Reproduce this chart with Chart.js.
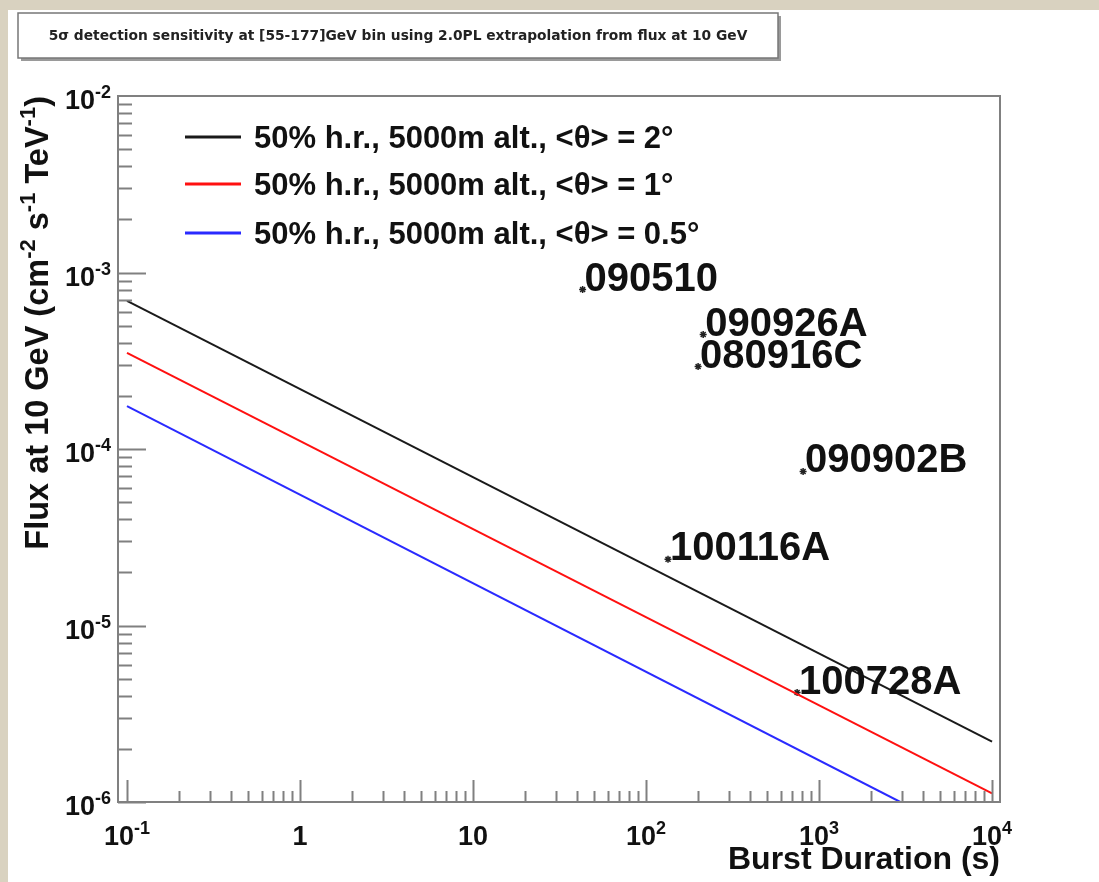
<!DOCTYPE html>
<html>
<head>
<meta charset="utf-8">
<script src="https://cdn.jsdelivr.net/npm/chart.js@4.4.1/dist/chart.umd.min.js"></script>
<style>
  html, body { margin: 0; padding: 0; background: #d9d2c0; }
  canvas { display: block; }
</style>
</head>
<body>
<canvas id="sens" width="1099" height="882"></canvas>
<script>
// sensitivity curves (flux at 10 GeV vs burst duration)
const durations = [0.1, 10000];
const flux2deg = [6.9e-4, 2.2e-6];
const flux1deg = [3.5e-4, 1.12e-6];
const durationsHalf = [0.1, 2950];
const fluxHalfDeg = [1.75e-4, 1.0e-6];

// bursts
const grbNames = ['090510', '090926A', '080916C', '090902B', '100116A', '100728A'];
const grbDurations = [43, 214, 200, 809, 134, 747];
const grbFlux = [8.0e-4, 4.45e-4, 2.93e-4, 7.46e-5, 2.37e-5, 4.17e-6];

const seriesLabels = [
  '50% h.r., 5000m alt., <\u03b8> = 2\u00b0',
  '50% h.r., 5000m alt., <\u03b8> = 1\u00b0',
  '50% h.r., 5000m alt., <\u03b8> = 0.5\u00b0'
];
const seriesColors = ['#1a1a1a', '#ff1010', '#2a2aff'];

const xMajor = [0.1, 1, 10, 100, 1000, 10000];
const xMajorLabels = [['10', '-1'], ['1', ''], ['10', ''], ['10', '2'], ['10', '3'], ['10', '4']];
const yMajor = [1e-6, 1e-5, 1e-4, 1e-3, 1e-2];
const yMajorLabels = [['10', '-6'], ['10', '-5'], ['10', '-4'], ['10', '-3'], ['10', '-2']];

const titleText = '5\u03c3 detection sensitivity at [55-177]GeV bin using 2.0PL extrapolation from flux at 10 GeV';
const xTitle = 'Burst Duration (s)';
const yTitle = [['Flux at 10 GeV (cm', ''], ['', '-2'], [' s', ''], ['', '-1'], [' TeV', ''], ['', '-1'], [')', '']];

const FONT = '"Liberation Sans", Arial, Helvetica, sans-serif';

function pts(xs, ys) {
  return xs.map((x, i) => ({ x: x, y: ys[i] }));
}

function supLabel(ctx, base, sup, size, supSize) {
  ctx.font = 'bold ' + size + 'px ' + FONT;
  const wb = ctx.measureText(base).width;
  ctx.font = 'bold ' + supSize + 'px ' + FONT;
  const ws = sup ? ctx.measureText(sup).width : 0;
  return { wb: wb, ws: ws, w: wb + ws };
}

function drawSup(ctx, base, sup, x, y, size, supSize, rise) {
  const m = supLabel(ctx, base, sup, size, supSize);
  ctx.font = 'bold ' + size + 'px ' + FONT;
  ctx.fillText(base, x, y);
  if (sup) {
    ctx.font = 'bold ' + supSize + 'px ' + FONT;
    ctx.fillText(sup, x + m.wb, y - rise);
  }
  return m.w;
}

const rootPlugin = {
  id: 'rootStyle',
  beforeDraw(chart) {
    const ctx = chart.ctx;
    ctx.save();
    ctx.fillStyle = '#d9d2c0';
    ctx.fillRect(0, 0, chart.width, chart.height);
    ctx.fillStyle = '#ffffff';
    ctx.fillRect(8, 10, chart.width - 8, chart.height - 10);
    // title box
    ctx.fillStyle = '#9a9a9a';
    ctx.fillRect(21, 16, 760, 45);
    ctx.fillStyle = '#ffffff';
    ctx.fillRect(18, 13, 760, 45);
    ctx.strokeStyle = '#777777';
    ctx.lineWidth = 1.5;
    ctx.strokeRect(18, 13, 760, 45);
    ctx.fillStyle = '#222222';
    ctx.font = 'bold 13.8px "DejaVu Sans", ' + FONT;
    ctx.textAlign = 'center';
    ctx.textBaseline = 'middle';
    ctx.fillText(titleText, 398, 36);
    ctx.restore();
  },
  afterDraw(chart) {
    const ctx = chart.ctx;
    const xs = chart.scales.x, ys = chart.scales.y;
    const a = chart.chartArea;
    ctx.save();
    // frame
    ctx.strokeStyle = '#808080';
    ctx.lineWidth = 2;
    ctx.strokeRect(a.left, a.top, a.right - a.left, a.bottom - a.top);
    // ticks
    ctx.beginPath();
    for (let e = -1; e <= 3; e++) {
      for (let m = 1; m <= 9; m++) {
        const px = Math.round(xs.getPixelForValue(m * Math.pow(10, e))) + 0.5;
        ctx.moveTo(px, a.bottom);
        ctx.lineTo(px, a.bottom - (m === 1 ? 22 : 11));
      }
    }
    let px4 = Math.round(xs.getPixelForValue(1e4)) + 0.5;
    ctx.moveTo(px4, a.bottom);
    ctx.lineTo(px4, a.bottom - 22);
    for (let e = -6; e <= -3; e++) {
      for (let m = 1; m <= 9; m++) {
        const py = Math.round(ys.getPixelForValue(m * Math.pow(10, e))) + 0.5;
        ctx.moveTo(a.left, py);
        ctx.lineTo(a.left + (m === 1 ? 28 : 14), py);
      }
    }
    ctx.stroke();

    // tick labels
    ctx.fillStyle = '#111111';
    ctx.textAlign = 'left';
    ctx.textBaseline = 'alphabetic';
    xMajor.forEach((v, i) => {
      const lab = xMajorLabels[i];
      const m = supLabel(ctx, lab[0], lab[1], 27, 18);
      const px = xs.getPixelForValue(v);
      drawSup(ctx, lab[0], lab[1], px - m.w / 2, 845, 27, 18, 11);
    });
    yMajor.forEach((v, i) => {
      const lab = yMajorLabels[i];
      const m = supLabel(ctx, lab[0], lab[1], 27, 18);
      const py = ys.getPixelForValue(v);
      drawSup(ctx, lab[0], lab[1], 111 - m.w, py + 13, 27, 18, 11);
    });

    // axis titles
    ctx.font = 'bold 32px ' + FONT;
    ctx.textAlign = 'right';
    ctx.fillText(xTitle, a.right, 869);

    ctx.textAlign = 'left';
    let total = 0;
    yTitle.forEach(p => {
      total += supLabel(ctx, p[0], p[1], 32.5, 22).w;
    });
    ctx.translate(48, a.top);
    ctx.rotate(-Math.PI / 2);
    let cx = -total;
    yTitle.forEach(p => {
      cx += drawSup(ctx, p[0], p[1], cx, 0, 32.5, 22, 13);
    });
    ctx.setTransform(1, 0, 0, 1, 0, 0);

    // legend
    const rows = [137, 184, 233];
    for (let i = 0; i < 3; i++) {
      const ds = chart.data.datasets[i];
      ctx.strokeStyle = ds.borderColor;
      ctx.lineWidth = 3;
      ctx.beginPath();
      ctx.moveTo(185, rows[i]);
      ctx.lineTo(241, rows[i]);
      ctx.stroke();
      ctx.fillStyle = '#111111';
      ctx.font = 'bold 31px ' + FONT;
      ctx.fillText(ds.label, 254, rows[i] + 11);
    }

    // burst labels
    const meta = chart.getDatasetMeta(3);
    ctx.font = 'bold 40px ' + FONT;
    meta.data.forEach((el, i) => {
      ctx.fillText(grbNames[i], el.x + 2, el.y + 1);
    });
    ctx.restore();
  }
};

const sensChart = new Chart(document.getElementById('sens'), {
  type: 'line',
  data: {
    datasets: [
      { label: seriesLabels[0], data: pts(durations, flux2deg), borderColor: seriesColors[0], borderWidth: 2, pointRadius: 0 },
      { label: seriesLabels[1], data: pts(durations, flux1deg), borderColor: seriesColors[1], borderWidth: 2, pointRadius: 0 },
      { label: seriesLabels[2], data: pts(durationsHalf, fluxHalfDeg), borderColor: seriesColors[2], borderWidth: 2, pointRadius: 0 },
      {
        label: 'GRBs', data: pts(grbDurations, grbFlux), showLine: false,
        pointStyle: 'star', pointRadius: 3.5, borderColor: '#222222', borderWidth: 1.5, backgroundColor: '#222222'
      }
    ]
  },
  options: {
    responsive: false,
    animation: false,
    devicePixelRatio: 1,
    layout: { padding: { left: 118, top: 96, right: 99, bottom: 80 } },
    plugins: { legend: { display: false }, tooltip: { enabled: false }, title: { display: false } },
    scales: {
      x: { type: 'logarithmic', display: false, bounds: 'data', min: Math.pow(10, -1.052), max: Math.pow(10, 4.046) },
      y: { type: 'logarithmic', display: false, bounds: 'data', min: 1e-6, max: 1e-2 }
    }
  },
  plugins: [rootPlugin]
});
</script>
</body>
</html>
